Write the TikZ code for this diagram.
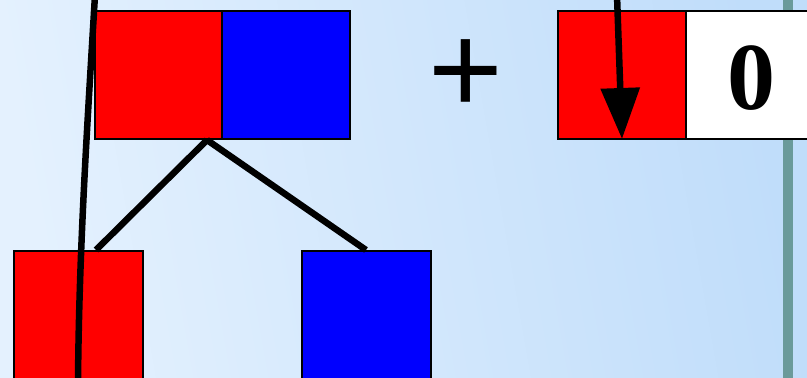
\documentclass[tikz,border=0pt]{standalone}
\usepackage{fontspec}
\setmainfont{Liberation Serif}
\newfontfamily\plusfont{Liberation Sans}
\usetikzlibrary{arrows.meta}
\definecolor{bgA}{RGB}{228,241,254}
\definecolor{bgB}{RGB}{192,221,250}
\definecolor{barteal}{RGB}{106,154,154}
\tikzset{
  cell/.style={draw=black, line width=1.6pt, inner sep=0pt, outer sep=0pt, anchor=north west},
  redcell/.style={cell, fill=red},
  bluecell/.style={cell, fill=blue},
  whitecell/.style={cell, fill=white},
  link/.style={line width=6.5pt},
  ptr/.style={line width=6.5pt, -{Triangle[width=38pt,length=51pt]}},
}
\begin{document}
\begin{tikzpicture}[x=1pt,y=-1pt]
\useasboundingbox (0,0) rectangle (807,378);
\shade[left color=bgA, right color=bgB, shading angle=100] (0,0) rectangle (807,378);
\fill[barteal] (782.7,0) rectangle (792.7,378);
% top pair
\node[redcell, minimum width=127pt, minimum height=128pt] (tr) at (95,11) {};
\node[bluecell, minimum width=128pt, minimum height=128pt] (tb) at (222,11) {};
% plus
\node[font=\plusfont\fontsize{128}{128}\selectfont, inner sep=0pt] (plus) at (466,77) {+};
% right pair
\node[redcell, minimum width=128pt, minimum height=128pt] (rr) at (558,11) {};
\node[whitecell, minimum width=140pt, minimum height=128pt] (rw) at (686,11) {};
\node[font=\fontsize{96}{96}\selectfont\bfseries, inner sep=0pt] (zero) at (751,78) {0};
% bottom boxes
\node[redcell, minimum width=129pt, minimum height=140pt] (bl) at (14,251) {};
\node[bluecell, minimum width=129pt, minimum height=140pt] (br) at (302,251) {};
% tree links
\coordinate (fork) at (207,140);
\coordinate (lend) at (96,250);
\coordinate (rend) at (366,250);
\draw[link] (fork) -- (lend);
\draw[link] (fork) -- (rend);
% long curve
\coordinate (cTop) at (95,-5);
\coordinate (cBot) at (78,383);
\draw[link] (cTop) .. controls (87,130) and (79,250) .. (cBot);
% arrow
\coordinate (aTop) at (617,-5);
\coordinate (aTip) at (622,139);
\draw[ptr] (aTop) -- (aTip);
\end{tikzpicture}
\end{document}
